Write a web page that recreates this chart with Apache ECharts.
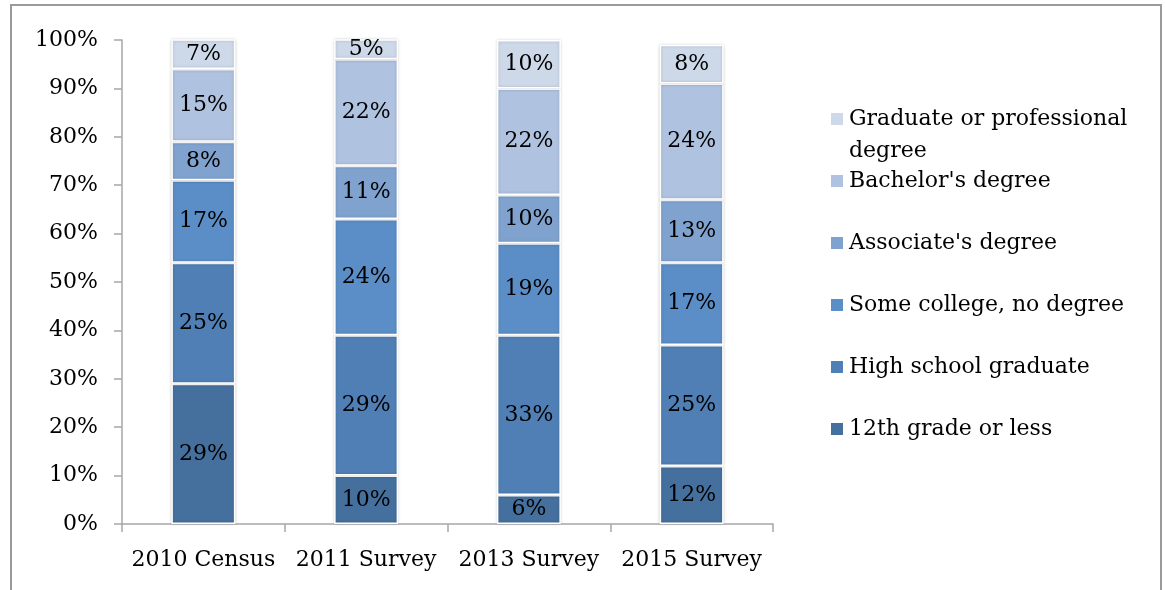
<!DOCTYPE html>
<html>
<head>
<meta charset="utf-8">
<script src="https://cdn.jsdelivr.net/npm/echarts@6/dist/echarts.min.js"></script>
<style>
  html, body { margin: 0; padding: 0; background: #fff; }
  #chart { width: 1165px; height: 590px; }
</style>
</head>
<body>
<div id="chart"></div>
<script>
// Educational attainment by survey year (percent of respondents)
const categories = ['2010 Census', '2011 Survey', '2013 Survey', '2015 Survey'];

const seriesNames = [
  '12th grade or less',
  'High school graduate',
  'Some college, no degree',
  "Associate's degree",
  "Bachelor's degree",
  'Graduate or professional degree'
];

const twelfthOrLess   = [29, 10, 6, 12];
const highSchool      = [25, 29, 33, 25];
const someCollege     = [17, 24, 19, 17];
const associates      = [8, 11, 10, 13];
const bachelors       = [15, 22, 22, 24];
const graduate        = [7, 5, 10, 8];

const yTicks = { min: 0, max: 100, interval: 10 };

const seriesValues = [twelfthOrLess, highSchool, someCollege, associates, bachelors, graduate];
const colors = ['#45709E', '#4F7FB4', '#5B8EC6', '#7FA2CF', '#AFC2DF', '#CDD8E9'];

const FONT = 'DejaVu Serif';
const FONT_SIZE = 22;
const axisGray = '#A6A6A6';

const series = seriesNames.map((name, i) => ({
  name,
  type: 'bar',
  stack: 'total',
  barWidth: 64,
  data: seriesValues[i],
  itemStyle: {
    color: colors[i],
    borderColor: '#ffffff',
    borderWidth: 1.5,
    shadowColor: 'rgba(0,0,0,0.18)',
    shadowBlur: 3
  },
  label: {
    show: true,
    position: 'inside',
    formatter: '{c}%',
    color: '#000',
    fontFamily: FONT,
    fontSize: FONT_SIZE,
    textBorderWidth: 0,
    textShadowBlur: 0
  },
  emphasis: { disabled: true }
}));

// One legend block per series, listed top to bottom in reverse stacking order.
// The long name wraps; a leading blank line keeps its first line level with the swatch.
const legendCenters = [429, 367, 305, 243, 181, 119];
const legends = seriesNames.map((name, i) => {
  const isGrad = i === 5;
  return {
    orient: 'vertical',
    left: 829,
    top: isGrad ? legendCenters[i] - 48 : legendCenters[i] - 15,
    padding: 0,
    itemWidth: 14,
    itemHeight: 14,
    icon: 'rect',
    selectedMode: false,
    data: [name],
    formatter: isGrad ? ' \nGraduate or professional\ndegree' : '{name}',
    textStyle: {
      fontFamily: FONT,
      fontSize: FONT_SIZE,
      color: '#000',
      lineHeight: isGrad ? 32 : 30
    }
  };
});

const chart = echarts.init(document.getElementById('chart'), null, { renderer: 'canvas' });
chart.setOption({
  animation: false,
  backgroundColor: '#ffffff',
  grid: { left: 122, right: 392, top: 40, bottom: 66, containLabel: false },
  legend: legends,
  xAxis: {
    type: 'category',
    data: categories,
    boundaryGap: true,
    axisLine: { show: true, lineStyle: { color: axisGray, width: 1.5 } },
    axisTick: { show: true, length: 8, lineStyle: { color: axisGray, width: 1.5 } },
    axisLabel: { color: '#000', fontFamily: FONT, fontSize: FONT_SIZE, margin: 25, interval: 0 },
    splitLine: { show: false }
  },
  yAxis: {
    type: 'value',
    min: yTicks.min,
    max: yTicks.max,
    interval: yTicks.interval,
    axisLine: { show: true, lineStyle: { color: axisGray, width: 1.5 } },
    axisTick: { show: true, length: 8, lineStyle: { color: axisGray, width: 1.5 } },
    axisLabel: { color: '#000', fontFamily: FONT, fontSize: FONT_SIZE, margin: 24, formatter: '{value}%' },
    splitLine: { show: false }
  },
  graphic: [{
    type: 'rect',
    silent: true,
    z: -1,
    shape: { x: 11, y: 5, width: 1150, height: 600 },
    style: { fill: 'none', stroke: '#9A9A9A', lineWidth: 2 }
  }],
  series
});
</script>
</body>
</html>
